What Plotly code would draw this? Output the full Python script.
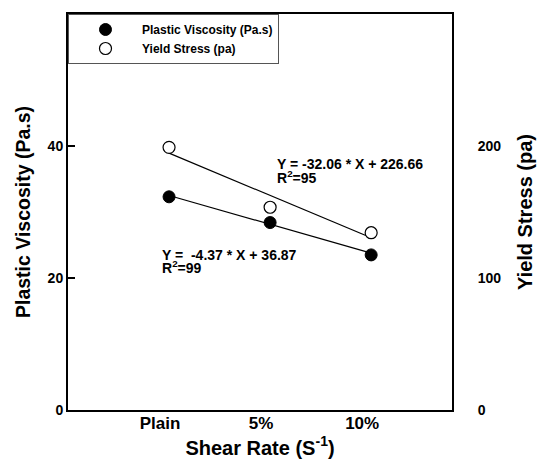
import plotly.graph_objects as go

categories = ["Plain", "5%", "10%"]
cat_pos = [1, 2, 3]
plastic_viscosity = [32.3, 28.4, 23.5]
yield_stress = [199.0, 153.6, 134.3]
fit_x = [1, 3]
pv_fit = [32.50, 23.76]
ys_fit = [194.6, 130.5]
left_ticks = [0, 20, 40, 60]
right_ticks = [0, 100, 200, 300]

FONT = "Arial, Liberation Sans, sans-serif"
ANN = dict(family=FONT, size=14, color="black", weight="bold")

fig = go.Figure()
fig.add_trace(go.Scatter(x=fit_x, y=pv_fit, mode="lines", line=dict(color="black", width=1.2),
                         showlegend=False, hoverinfo="skip"))
fig.add_trace(go.Scatter(x=fit_x, y=ys_fit, mode="lines", line=dict(color="black", width=1.2),
                         showlegend=False, hoverinfo="skip", yaxis="y2"))
fig.add_trace(go.Scatter(x=cat_pos, y=plastic_viscosity, mode="markers", name="Plastic Viscosity (Pa.s)",
                         marker=dict(symbol="circle", size=12, color="black", line=dict(color="black", width=1))))
fig.add_trace(go.Scatter(x=cat_pos, y=yield_stress, mode="markers", name="Yield Stress (pa)", yaxis="y2",
                         marker=dict(symbol="circle", size=12, color="white", line=dict(color="black", width=1.2))))

fig.add_annotation(x=2.05, y=37.3, xref="x", yref="y", xanchor="left", yanchor="middle", showarrow=False,
                   text="Y = -32.06 * X + 226.66", font=ANN)
fig.add_annotation(x=2.05, y=35.3, xref="x", yref="y", xanchor="left", yanchor="middle", showarrow=False,
                   text="R<sup>2</sup>=95", font=ANN)
fig.add_annotation(x=0.91, y=23.5, xref="x", yref="y", xanchor="left", yanchor="middle", showarrow=False,
                   text="Y =  -4.37 * X + 36.87", font=ANN)
fig.add_annotation(x=0.91, y=21.6, xref="x", yref="y", xanchor="left", yanchor="middle", showarrow=False,
                   text="R<sup>2</sup>=99", font=ANN)

fig.update_layout(
    width=539, height=455,
    margin=dict(l=60, r=95, t=6, b=53),
    paper_bgcolor="white", plot_bgcolor="white",
    font=dict(family=FONT, color="black"),
    showlegend=True,
    legend=dict(x=0, y=1, xanchor="left", yanchor="top", bgcolor="white",
                bordercolor="#555555", borderwidth=1,
                font=dict(family=FONT, size=12, color="black", weight="bold"),
                tracegroupgap=0, itemwidth=63),
    xaxis=dict(range=[0, 3.8], tickmode="array", tickvals=cat_pos, ticktext=categories, automargin=False,
               showgrid=False, zeroline=False, showline=True, linecolor="black", linewidth=2,
               mirror=True, ticks="", tickfont=dict(family=FONT, size=17, weight="bold"),
               ticklabelshift=-9, ticklabelstandoff=-3,
               title=dict(text="Shear Rate (S<sup>-1</sup>)", font=dict(family=FONT, size=20, weight="bold"),
                          standoff=0)),
    yaxis=dict(range=[0, 60], tickmode="array", tickvals=left_ticks, showgrid=False, zeroline=False,
               automargin=False,
               showline=True, linecolor="black", linewidth=2, ticks="inside", ticklen=7, tickwidth=1.5,
               tickcolor="black", tickfont=dict(family=FONT, size=14, weight="bold"),
               title=dict(text="Plastic Viscosity (Pa.s)", font=dict(family=FONT, size=19.5, weight="bold"),
                          standoff=12)),
    yaxis2=dict(range=[0, 300], tickmode="array", tickvals=right_ticks, overlaying="y", side="right",
                automargin=False,
                showgrid=False, zeroline=False, showline=True, linecolor="black", linewidth=2, ticks="",
                ticklabelstandoff=21,
                tickfont=dict(family=FONT, size=14, weight="bold"),
                title=dict(text="Yield Stress (pa)", font=dict(family=FONT, size=20, weight="bold"),
                           standoff=18)),
)

fig.write_html("out.html")
